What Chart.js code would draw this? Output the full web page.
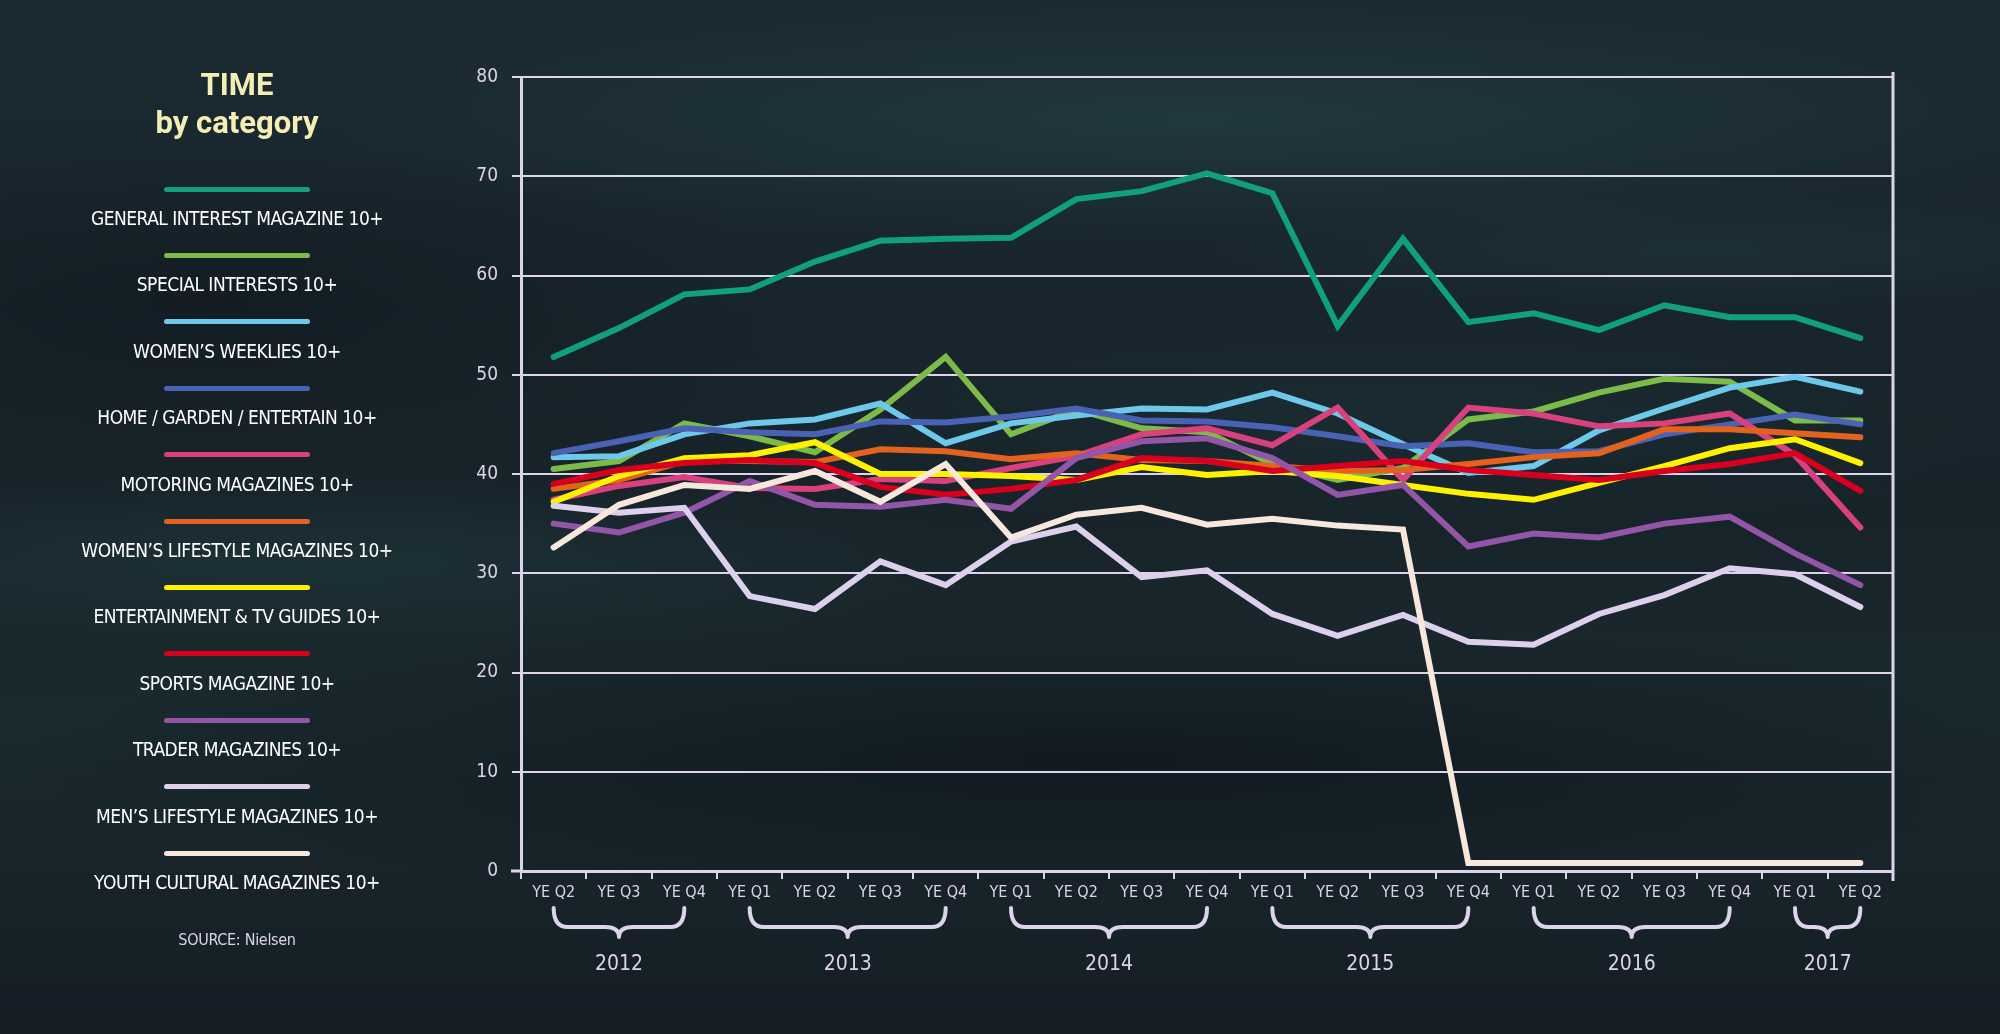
<!DOCTYPE html>
<html>
<head>
    <title>TIME by category</title>
    <script src="https://cdn.jsdelivr.net/npm/chart.js"></script>
    <style>
        html, body { margin: 0; padding: 0; }
        body {
            width: 2000px; height: 1034px; overflow: hidden;
            font-family: "Liberation Sans Narrow", "DejaVu Sans Condensed", Roboto, sans-serif;
            background-color: #19252c;
            background-image:
                radial-gradient(ellipse 900px 120px at 1200px 120px, rgba(40, 75, 80, 0.45), transparent),
                radial-gradient(ellipse 700px 90px at 300px 560px, rgba(35, 70, 75, 0.35), transparent),
                radial-gradient(ellipse 1100px 140px at 1100px 760px, rgba(10, 14, 22, 0.55), transparent),
                radial-gradient(ellipse 800px 110px at 1400px 420px, rgba(30, 60, 62, 0.35), transparent),
                radial-gradient(ellipse 600px 160px at 200px 300px, rgba(12, 18, 26, 0.45), transparent),
                radial-gradient(ellipse 500px 60px at 1700px 250px, rgba(35, 65, 70, 0.35), transparent),
                linear-gradient(180deg, #1b2a31 0%, #172229 45%, #1a2a2e 70%, #151d25 100%);
        }
        #wrap { position: relative; width: 2000px; height: 1034px; }
        #chart { position: absolute; left: 0; top: 0; }
        .title { position: absolute; left: 0; width: 474px; text-align: center; color: #f3eeb3;
                 font-family: Roboto, sans-serif; font-weight: bold; font-size: 31px; line-height: 38px; }
        .key { position: absolute; left: 164px; width: 146px; height: 5px; border-radius: 3px; }
        .name { position: absolute; left: 0; width: 474px; text-align: center; color: #ffffff;
                font-size: 19px; letter-spacing: -0.5px; line-height: 24px; white-space: nowrap; }
        .source { position: absolute; left: 0; width: 474px; text-align: center; color: #ddd4ea;
                  font-size: 16px; letter-spacing: -0.3px; line-height: 20px; top: 930px; }
    </style>
</head>
<body>
<div id="wrap">
    <canvas id="chart" width="2000" height="1034"></canvas>
    <div class="title" style="top:66px">TIME</div>
    <div class="title" style="top:104px">by category</div>
    <div id="legend"></div>
    <div class="source">SOURCE: Nielsen</div>
</div>

<script>
    // quarter labels (x axis) and the years they belong to
    const quarters = ['YE Q2', 'YE Q3', 'YE Q4',
        'YE Q1', 'YE Q2', 'YE Q3', 'YE Q4',
        'YE Q1', 'YE Q2', 'YE Q3', 'YE Q4',
        'YE Q1', 'YE Q2', 'YE Q3', 'YE Q4',
        'YE Q1', 'YE Q2', 'YE Q3', 'YE Q4',
        'YE Q1', 'YE Q2'];
    const years = ['2012', '2013', '2014', '2015', '2016', '2017'];
    const yearCounts = [3, 4, 4, 4, 4, 2];

    const seriesNames = [
        'GENERAL INTEREST MAGAZINE 10+',
        'SPECIAL INTERESTS 10+',
        'WOMEN\u2019S WEEKLIES 10+',
        'HOME / GARDEN / ENTERTAIN 10+',
        'MOTORING MAGAZINES 10+',
        'WOMEN\u2019S LIFESTYLE MAGAZINES 10+',
        'ENTERTAINMENT & TV GUIDES 10+',
        'SPORTS MAGAZINE 10+',
        'TRADER MAGAZINES 10+',
        'MEN\u2019S LIFESTYLE MAGAZINES 10+',
        'YOUTH CULTURAL MAGAZINES 10+'
    ];
    const seriesColors = ['#11a07f', '#7cba4a', '#6ec8ea', '#4a62b4', '#d8407e', '#e2621e',
                          '#fff200', '#d8001c', '#9355a8', '#dcd0ec', '#f8e8dc'];

    // values
    const generalInterest = [51.8, 54.7, 58.1, 58.6, 61.4, 63.5, 63.7, 63.8, 67.7, 68.5, 70.3, 68.3, 54.9, 63.7, 55.3, 56.2, 54.5, 57.0, 55.8, 55.8, 53.7];
    const specialInterests = [40.5, 41.3, 45.1, 43.8, 42.2, 46.5, 51.8, 44.0, 46.5, 44.6, 44.2, 41.0, 39.4, 40.6, 45.5, 46.3, 48.2, 49.6, 49.3, 45.4, 45.4];
    const womensWeeklies = [41.7, 41.8, 44.0, 45.1, 45.5, 47.1, 43.1, 45.1, 45.9, 46.6, 46.5, 48.2, 46.1, 43.0, 40.1, 40.8, 44.4, 46.6, 48.7, 49.8, 48.3];
    const homeGarden = [42.1, 43.3, 44.6, 44.2, 44.0, 45.3, 45.2, 45.8, 46.6, 45.4, 45.3, 44.7, 43.8, 42.8, 43.1, 42.2, 42.3, 44.0, 45.0, 46.0, 45.0];
    const motoring = [37.4, 38.8, 39.7, 38.6, 38.5, 39.5, 39.3, 40.6, 41.8, 44.0, 44.6, 42.9, 46.7, 39.4, 46.7, 46.1, 44.8, 45.1, 46.1, 41.9, 34.6];
    const womensLifestyle = [38.5, 39.4, 41.3, 41.3, 41.2, 42.5, 42.3, 41.5, 42.1, 41.4, 41.3, 40.8, 40.3, 40.4, 41.0, 41.7, 42.1, 44.5, 44.5, 44.1, 43.7];
    const entertainmentTv = [37.2, 39.8, 41.6, 41.9, 43.2, 40.0, 40.0, 39.8, 39.4, 40.7, 39.9, 40.3, 39.8, 38.9, 38.0, 37.4, 39.1, 40.8, 42.6, 43.5, 41.1];
    const sports = [39.0, 40.4, 41.1, 41.4, 41.1, 38.7, 37.9, 38.5, 39.4, 41.6, 41.3, 40.3, 40.8, 41.3, 40.4, 39.9, 39.4, 40.3, 41.0, 42.1, 38.3];
    const trader = [35.0, 34.1, 36.1, 39.3, 36.9, 36.7, 37.4, 36.5, 41.6, 43.3, 43.6, 41.6, 37.9, 38.9, 32.7, 34.0, 33.6, 35.0, 35.7, 32.0, 28.8];
    const mensLifestyle = [36.8, 36.1, 36.6, 27.7, 26.4, 31.2, 28.8, 33.2, 34.7, 29.6, 30.3, 25.9, 23.7, 25.8, 23.1, 22.8, 25.9, 27.8, 30.5, 29.9, 26.6];
    const youthCultural = [32.6, 36.9, 38.9, 38.5, 40.3, 37.2, 41.0, 33.6, 35.9, 36.6, 34.9, 35.5, 34.8, 34.4, 0.8, 0.8, 0.8, 0.8, 0.8, 0.8, 0.8];

    const seriesValues = [generalInterest, specialInterests, womensWeeklies, homeGarden, motoring,
                          womensLifestyle, entertainmentTv, sports, trader, mensLifestyle, youthCultural];

    const axisColor = '#ddd3ec';
    const fontFamily = '"Liberation Sans Narrow", "DejaVu Sans Condensed", Roboto, sans-serif';

    // legend on the left side
    const legend = document.getElementById('legend');
    seriesNames.forEach((name, i) => {
        const y = 189 + i * 66.4;
        const key = document.createElement('div');
        key.className = 'key';
        key.style.top = (y - 2.5) + 'px';
        key.style.background = seriesColors[i];
        legend.appendChild(key);
        const label = document.createElement('div');
        label.className = 'name';
        label.style.top = (y + 29 - 12) + 'px';
        label.textContent = name;
        legend.appendChild(label);
    });

    // right border line, braces and year labels under the x axis
    const yearBraces = {
        id: 'yearBraces',
        afterDraw(chart) {
            const ctx = chart.ctx;
            const x = chart.scales.x;
            const area = chart.chartArea;
            ctx.save();
            ctx.strokeStyle = axisColor;
            ctx.lineWidth = 3;
            ctx.beginPath();
            ctx.moveTo(area.right, area.top - 5);
            ctx.lineTo(area.right, area.bottom + 10);
            ctx.stroke();
            // axis line runs a little past the y axis on the left
            ctx.beginPath();
            ctx.moveTo(area.left - 10, area.bottom);
            ctx.lineTo(area.left, area.bottom);
            ctx.stroke();

            const top = area.bottom + 37, mid = area.bottom + 56, tip = area.bottom + 66;
            ctx.lineWidth = 4;
            ctx.lineCap = 'round';
            ctx.fillStyle = axisColor;
            ctx.font = '21px ' + fontFamily;
            ctx.textAlign = 'center';
            ctx.textBaseline = 'middle';
            let start = 0;
            years.forEach((yr, i) => {
                const end = start + yearCounts[i] - 1;
                const x1 = x.getPixelForValue(start);
                const x2 = x.getPixelForValue(end);
                const xm = (x1 + x2) / 2;
                const r = 14;
                ctx.beginPath();
                ctx.moveTo(x1, top);
                ctx.quadraticCurveTo(x1, mid, x1 + r, mid);
                ctx.lineTo(xm - r, mid);
                ctx.quadraticCurveTo(xm, mid, xm, tip);
                ctx.moveTo(x2, top);
                ctx.quadraticCurveTo(x2, mid, x2 - r, mid);
                ctx.lineTo(xm + r, mid);
                ctx.quadraticCurveTo(xm, mid, xm, tip);
                ctx.stroke();
                ctx.fillText(yr, xm, area.bottom + 94);
                start = end + 1;
            });
            ctx.restore();
        }
    };

    new Chart(document.getElementById('chart'), {
        type: 'line',
        data: {
            labels: quarters,
            datasets: seriesNames.map((name, i) => ({
                label: name,
                data: seriesValues[i],
                borderColor: seriesColors[i],
                backgroundColor: seriesColors[i],
                borderWidth: 6,
                borderJoinStyle: 'miter',
                borderCapStyle: 'round',
                pointRadius: 0,
                tension: 0,
                order: -i
            }))
        },
        options: {
            responsive: false,
            devicePixelRatio: 1,
            animation: false,
            layout: { padding: { left: 451, right: 107, top: 77, bottom: 0 } },
            plugins: {
                legend: { display: false },
                tooltip: { enabled: false }
            },
            scales: {
                x: {
                    offset: true,
                    grid: { offset: true, drawOnChartArea: false, drawTicks: true, tickLength: 8, color: axisColor, lineWidth: 2 },
                    border: { display: true, color: axisColor, width: 3 },
                    ticks: { color: axisColor, font: { family: fontFamily, size: 16 }, padding: 4, maxRotation: 0, autoSkip: false },
                    afterFit(scale) { scale.height = 163; }
                },
                y: {
                    min: 0,
                    max: 80,
                    ticks: { stepSize: 10, color: axisColor, font: { family: fontFamily, size: 19 }, padding: 14 },
                    grid: { color: axisColor, lineWidth: 2, tickLength: 9 },
                    border: { display: true, color: axisColor, width: 3 },
                    afterFit(scale) { scale.width = 70; }
                }
            }
        },
        plugins: [yearBraces]
    });
</script>
</body>
</html>
